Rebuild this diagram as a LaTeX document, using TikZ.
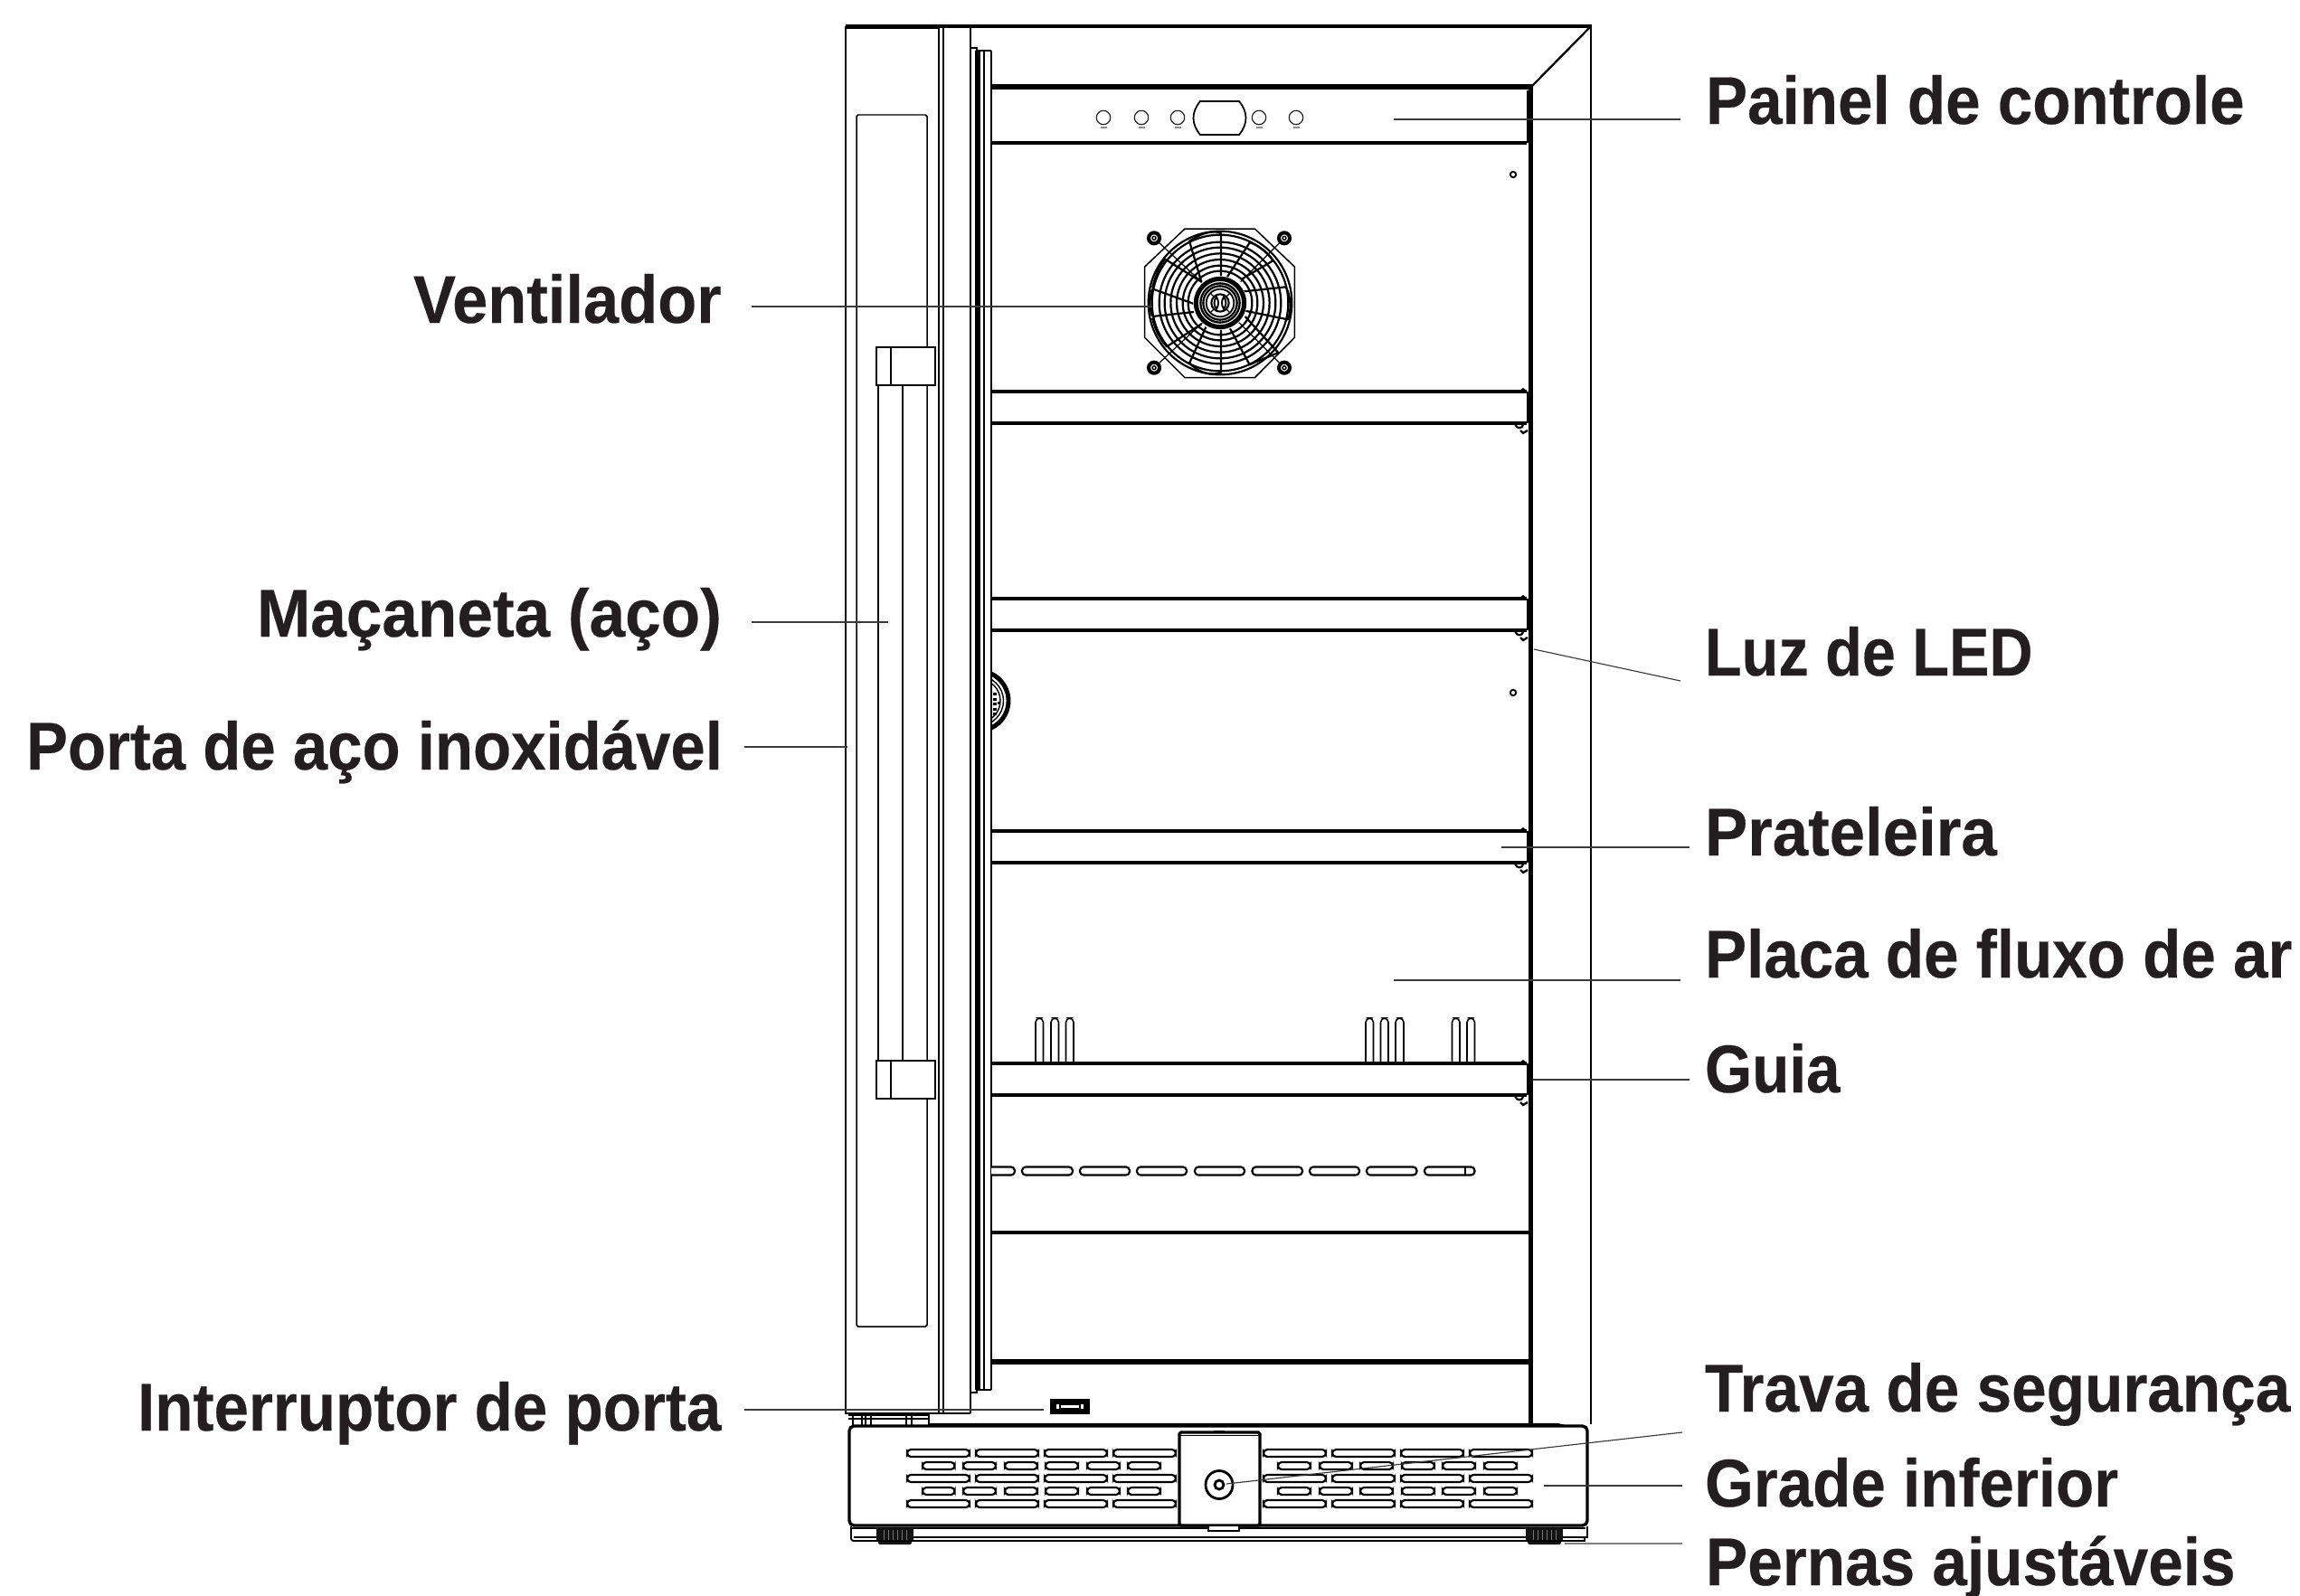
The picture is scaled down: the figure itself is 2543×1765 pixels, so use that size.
\documentclass[tikz,border=0pt]{standalone}
\usepackage{fontspec}
\usepackage{graphicx}
\setmainfont{Liberation Sans}[BoldFeatures={FakeBold=0.3}]
\definecolor{ink}{HTML}{231F20}
\definecolor{lead}{HTML}{3A3A3A}
\newdimen\labw
\newcommand\fitw[2]{\setlength\labw{#1pt}\setlength\labw{0.5669\labw}\resizebox{\labw}{\height}{#2}}
\tikzset{
  lab/.style={anchor=base west,inner sep=0pt,outer sep=0pt,text=ink,font=\fontsize{42.5}{50}\selectfont\bfseries},
  leader/.style={draw=lead,line width=0.65pt},
  thinl/.style={draw=black,line width=0.85pt},
  medl/.style={draw=black,line width=1.3pt},
  thickl/.style={draw=black,line width=2.9pt},
  shelfl/.style={draw=black,line width=1.9pt},
  slot/.style={draw=black,line width=1.25pt,rounded corners=2.3pt,fill=white},
  rib/.style={draw=black,line width=0.9pt},
  wire/.style={draw=black,line width=0.7pt},
  blade/.style={draw=black,line width=1.25pt,line join=round}
}
\begin{document}
\begin{tikzpicture}[x=0.02cm,y=-0.02cm,line cap=butt]
\useasboundingbox (0,0) rectangle (2543,1765);
\fill[white] (0,0) rectangle (2543,1765);

% ---- cabinet
\draw[medl] (1759,29) -- (1759,1575);
\draw[medl,line width=1.8pt] (935,29) -- (1760,29);
\draw[medl] (1759,29) -- (1693,96);
\draw[thickl,line width=3.2pt] (1096,96) -- (1695,96);
\draw[thickl,line width=2.5pt] (1692.5,96) -- (1692.5,1575);

% ---- door
\draw[medl] (935,29) -- (935,1563) -- (1073,1563);
\draw[draw=black,line width=1.7pt] (935,31) -- (1038,31);
\draw[medl] (1038,29) -- (1038,1563);
\draw[medl,line width=1.6pt] (1043,29) -- (1043,1563);
\draw[medl] (1073,29) -- (1073,1563);
\draw[thinl,rounded corners=1pt] (947,127) -- (1025,127) -- (1025,1467) -- (947,1467) -- cycle;
% gasket
\draw[thinl] (1073,53) -- (1080,53) -- (1080,56) -- (1096,56);
\draw[thinl] (1073,1540) -- (1080,1540) -- (1080,1537) -- (1096,1537);
\draw[thickl,line width=3pt] (1081,56) -- (1081,1537);
\draw[medl,line width=1.6pt] (1088,56) -- (1088,1537);
\draw[thinl] (1096,56) -- (1096,1537);

% ---- handle
\draw[thinl,line width=1pt] (971,426) -- (971,1173);
\draw[thinl,line width=1pt] (998,426) -- (998,1173);
\foreach \yy in {384,1173}{
  \draw[medl,line width=1.1pt,fill=white] (969,\yy) rectangle (1034,\yy+42);
  \draw[medl,line width=1.1pt] (985,\yy) -- (985,\yy+42);
}

% ---- control panel
\draw[shelfl,line width=2.2pt] (1096,158) -- (1688,158);
\draw[medl,line width=1.6pt] (1689,100) -- (1689,158);
\foreach \bx in {1220,1262,1302,1392,1433}{
  \draw[draw=black!85,line width=0.7pt] (\bx,130) circle (7.7);
  \draw[draw=black!45,line width=0.6pt] (\bx-3.5,141) -- (\bx+3.5,141);
}
\draw[medl,line width=1pt] (1327,112) -- (1370,112) .. controls (1380,124) and (1380,137) .. (1370,149) -- (1327,149) .. controls (1317,137) and (1317,124) .. (1327,112) -- cycle;
\draw[medl,line width=1.1pt] (1673,193) circle (3.2);
\draw[medl,line width=1.1pt] (1673,766) circle (3.2);

% ---- shelves
\foreach \ya/\yb in {433/468,662/697,919/954,1176/1211}{
  \draw[shelfl] (1096,\ya) -- (1688,\ya);
  \draw[shelfl] (1096,\yb) -- (1688,\yb);
  \draw[medl,line width=1.7pt] (1689,\ya) -- (1689,\yb);
  \fill[black] (1680,\ya-1) -- (1684,\ya-4) -- (1688,\ya-1) -- cycle;
  \draw[medl] (1675,\yb+1) .. controls (1677,\yb+7) and (1683,\yb+6) .. (1684,\yb+2);
  \draw[medl] (1681,\yb+8) -- (1684,\yb+11) -- (1689,\yb+8);
}

% ---- ribs
\foreach \ra/\rb in {1145/1153.5,1162/1170.5,1178.5/1187,1510/1518.5,1526.5/1535,1543/1552,1605.5/1614,1622/1630.5}{
  \draw[rib,rounded corners=2.6pt] (\ra,1176) -- (\ra,1126) -- (\rb,1126) -- (\rb,1176);
}

% ---- vent row
\foreach \sa/\sb in {1130/1186,1194/1249,1257/1312,1321/1376,1384.5/1440,1448/1503,1511/1566.5,1575/1630.5}{
  \draw[slot] (\sa,1290.5) rectangle (\sb,1299.5);
}
\draw[slot] (1096,1290.5) -- (1122,1290.5) -- (1122,1299.5) -- (1096,1299.5);
\draw[medl,line width=1pt] (1620,1290.5) -- (1620,1299.5);
\draw[shelfl] (1096,1363) -- (1692,1363);
\draw[thickl] (1096,1506) -- (1692,1506);

% ---- thermostat knob
\begin{scope}
\clip (1097,730) rectangle (1125,820);
\draw[draw=black,line width=2.8pt] (1082,775) circle (33);
\draw[draw=black,line width=0.8pt] (1082,775) circle (27.5);
\draw[draw=black,line width=0.8pt] (1082,775) circle (24);
\foreach \qy in {766,771.5,777,782.5,788}{\fill[black] (1098,\qy) rectangle (1102,\qy+3);}
\fill[black] (1103,776) rectangle (1106,779);
\end{scope}

% ---- fan
\begin{scope}[shift={(1349,335)},scale=0.3333]
\draw[thinl] (-117,-246) -- (115,-246) -- (247,-120) -- (247,115) -- (115,248) -- (-117,248) -- (-250,115) -- (-250,-120) -- cycle;
\foreach \sx/\sy/\tx/\ty in {-219/-215/-60/-68,213/-215/68/-70,-219/215/-58/65,213/215/63/65}{
  \draw[wire] (\sx,\sy) -- (\tx,\ty);
  \draw[draw=black,line width=2.3pt,fill=white] (\sx,\sy) circle (18);
  \draw[draw=black,line width=0.8pt,fill=white] (\sx,\sy) circle (6);
}
\foreach \rr in {238,226,202,184,164,144,124,106}{
  \draw[draw=black,line width=1.25pt] (0,0) circle (\rr);
}
% blades
\draw[blade] (-87,3) -- (-225,-47);
\draw[blade] (-87,30) -- (-225,45);
\draw[blade] (-225,-47) .. controls (-235,-20) and (-235,20) .. (-225,45);
\draw[blade] (78,-38) -- (218,-53) .. controls (236,-20) and (236,25) .. (225,55) -- (78,25);
\draw[blade] (-62,-70) -- (-102,-205) .. controls (-50,-240) and (-10,-240) .. (3,-230) -- (3,-80);
\draw[blade] (23,-85) -- (98,-200) .. controls (120,-195) and (160,-170) .. (175,-140) -- (73,-80);
\draw[blade] (-47,80) -- (-102,200) .. controls (-60,240) and (-20,240) .. (3,230) -- (3,85);
\draw[blade] (33,85) -- (98,205) .. controls (130,190) and (170,175) .. (193,165) -- (83,45);
\draw[blade] (-62,70) -- (-177,145) .. controls (-200,120) and (-215,90) .. (-225,50);
\draw[blade] (-62,-70) -- (-182,-145) .. controls (-200,-125) and (-215,-90) .. (-225,-50);
% hub
\draw[draw=white,fill=white] (0,0) circle (88);
\draw[draw=black,line width=2.9pt] (0,0) circle (80);
\draw[draw=black,line width=1.3pt] (0,0) circle (65);
\draw[draw=black,line width=1.3pt] (0,0) circle (56);
\draw[draw=black,line width=1.05pt] (0,0) circle (46);
\draw[draw=black,line width=1.2pt] (0,0) circle (29);
\draw[draw=black,line width=1.1pt] (-12,-20) .. controls (-22,-8) and (-22,8) .. (-12,20) .. controls (-4,8) and (-4,-8) .. (-12,-20) -- cycle;
\draw[draw=black,line width=1.1pt] (12,-20) .. controls (22,-8) and (22,8) .. (12,20) .. controls (4,8) and (4,-8) .. (12,-20) -- cycle;
\foreach \qa in {45,135,225,315}{\draw[wire] (\qa:30) -- (\qa:46);}
\end{scope}

% ---- door switch
\draw[medl,line width=1.3pt] (1162,1548) rectangle (1204,1563);
\draw[thinl,fill=black] (1163,1548) rectangle (1167,1563);
\draw[thinl,fill=black] (1199,1548) rectangle (1203,1563);
\draw[thinl,fill=white] (1172,1553) rectangle (1194,1558);
\draw[thinl,fill=black] (1167,1549) rectangle (1199,1552);
\draw[thinl,fill=black] (1167,1559) rectangle (1199,1562);

% ---- hinge block
\draw[thinl] (938,1569) -- (1027,1569);
\draw[thinl,line width=1pt] (938,1565) -- (1027,1565) -- (1027,1577);
\fill[black] (950,1563) rectangle (968,1565.5);
\foreach \vx in {943,953,957,963,1002,1008}{\draw[thinl] (\vx,1565) -- (\vx,1577);}

% ---- base
\draw[medl] (1027,1575) -- (1722,1575) -- (1730,1577);
\draw[shelfl,rounded corners=3pt,fill=white] (939,1577) rectangle (1755,1687);
\draw[thinl] (942,1690) -- (1753,1690);
\foreach \lx in {969,1687}{
  \fill[black!92] (\lx,1690) rectangle (\lx+41,1704);
  \fill[black!92,rounded corners=1pt] (\lx+2,1703) rectangle (\lx+39,1708);
  \foreach \k in {8,13,...,33}{\draw[draw=black!55,line width=0.5pt] (\lx+\k,1692) -- (\lx+\k,1703);}
}
\draw[thinl,line width=1.1pt] (941,1688) -- (941,1701) .. controls (941,1703) and (942,1704) .. (944,1704) -- (1752,1704) -- (1752,1700) -- (1755,1700) -- (1755,1688);
\draw[medl,line width=1.2pt] (1009,1700) -- (1687,1700);
\draw[thinl] (944,1700) -- (969,1700);
\draw[thinl] (1728,1700) -- (1752,1700);

% lock plate
\draw[shelfl,fill=white,rounded corners=1pt] (1304,1584) rectangle (1393,1687);
\draw[thinl] (1304,1587.5) -- (1393,1587.5);
\draw[thinl] (1342,1583) -- (1354,1583);
\draw[thinl,fill=white] (1336,1687) rectangle (1370,1693);
\draw[shelfl,line width=1.6pt] (1348,1642) ellipse (15 and 15.5);
\draw[shelfl,line width=1.6pt] (1348,1642) circle (5);

% grille slots
\foreach \sy in {1607,1635,1663}{
  \foreach \sa/\sb in {1003/1072,1079/1148,1155/1224,1231/1300,1397/1466,1473/1542,1549/1618,1625/1694}{
    \draw[slot] (\sa,\sy-4) rectangle (\sb,\sy+4);
  }
}
\foreach \sy in {1621,1649}{
  \foreach \sa/\sb in {1020/1055.5,1065/1101,1111/1147,1156/1192,1202/1238,1247/1283,1413/1449,1459/1495,1504/1540,1550/1586,1595/1631,1641/1677}{
    \draw[slot] (\sa,\sy-4) rectangle (\sb,\sy+4);
  }
}

% ---- labels
\node[lab] (lpainel) at (1886,137) {\fitw{598}{Painel de controle}};
\node[lab] (lvent) at (457,357) {\fitw{342}{Ventilador}};
\node[lab] (lmac) at (284,704) {\fitw{516}{Maçaneta (aço)}};
\node[lab] (lporta) at (29,851) {\fitw{773}{Porta de aço inoxidável}};
\node[lab] (linter) at (152,1582) {\fitw{648}{Interruptor de porta}};
\node[lab] (lluz) at (1885,747) {\fitw{364}{Luz de LED}};
\node[lab] (lprat) at (1885,946) {\fitw{324}{Prateleira}};
\node[lab] (lplaca) at (1885,1081) {\fitw{652}{Placa de fluxo de ar}};
\node[lab] (lguia) at (1885,1208) {\fitw{150}{Guia}};
\node[lab] (ltrava) at (1885,1561) {\fitw{650}{Trava de segurança}};
\node[lab] (lgrade) at (1885,1666) {\fitw{459}{Grade inferior}};
\node[lab] (lpernas) at (1886,1753) {\fitw{588}{Pernas ajustáveis}};

% ---- leaders
\coordinate (a1) at (1858,132);  \coordinate (b1) at (1541,132);
\coordinate (a2) at (831,339);   \coordinate (b2) at (1274,339);
\coordinate (a3) at (831,688);   \coordinate (b3) at (982,688);
\coordinate (a4) at (823,826);   \coordinate (b4) at (937,826);
\coordinate (a5) at (823,1559);  \coordinate (b5) at (1154,1559);
\coordinate (a6) at (1858,753);  \coordinate (b6) at (1696,718);
\coordinate (a7) at (1868,937);  \coordinate (b7) at (1660,937);
\coordinate (a8) at (1858,1084); \coordinate (b8) at (1541,1084);
\coordinate (a9) at (1868,1194); \coordinate (b9) at (1695,1194);
\coordinate (a10) at (1860,1584);\coordinate (b10) at (1356,1641);
\coordinate (a11) at (1860,1643);\coordinate (b11) at (1707,1643);
\coordinate (a12) at (1860,1707);\coordinate (b12) at (1730,1707);
\foreach \n in {1,...,11}{\draw[leader] (a\n) -- (b\n);}
\draw[leader,draw=black!50,line width=1.2pt] (a12) -- (b12);
\end{tikzpicture}
\end{document}
